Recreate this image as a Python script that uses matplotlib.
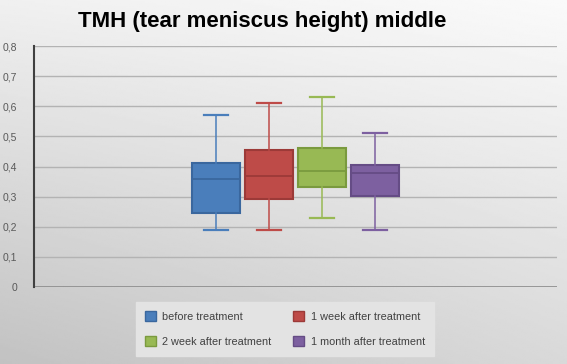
import numpy as np
import matplotlib.pyplot as plt
from matplotlib.patches import Patch

plt.rcParams['font.family'] = ['Liberation Sans', 'DejaVu Sans']

# data
groups = ['before treatment', '1 week after treatment',
          '2 week after treatment', '1 month after treatment']
whisk_lo = [0.19, 0.19, 0.23, 0.19]
q1 = [0.245, 0.293, 0.331, 0.302]
median = [0.36, 0.37, 0.384, 0.378]
q3 = [0.41, 0.454, 0.461, 0.404]
whisk_hi = [0.57, 0.61, 0.63, 0.51]

colors = ['#4A7EBB', '#BE4B48', '#98B954', '#7D60A0']
edges = ['#3A679E', '#9C3A38', '#7A9A3E', '#654C85']
yticks = np.arange(0, 0.81, 0.1)
ytick_labels = ['0'] + ['0,%d' % i for i in range(1, 9)]

W, H = 567, 364
fig = plt.figure(figsize=(W / 100, H / 100), dpi=100)

# background gradient (light at top right, darker at bottom left)
bg = fig.add_axes([0, 0, 1, 1], zorder=-10)
yy, xx = np.mgrid[0:1:200j, 0:1:300j]
shade = 0.98 - 0.13 * yy - 0.05 * (1 - xx) * yy - 0.04 * (1 - xx)
bg.imshow(shade, cmap='gray', vmin=0, vmax=1, aspect='auto',
          extent=[0, 1, 0, 1], origin='upper')
bg.axis('off')

ax = fig.add_axes([34 / W, 1 - 287 / H, 523 / W, 241 / H])
ax.patch.set_alpha(0)

stats = []
for i in range(len(groups)):
    stats.append({'whislo': whisk_lo[i], 'q1': q1[i], 'med': median[i],
                  'q3': q3[i], 'whishi': whisk_hi[i], 'fliers': []})

pos = [-1.5, -0.5, 0.5, 1.5]
bp = ax.bxp(stats, positions=pos, widths=0.9, patch_artist=True,
            showfliers=False, manage_ticks=False)
for i in range(len(groups)):
    bp['boxes'][i].set_facecolor(colors[i])
    bp['boxes'][i].set_edgecolor(edges[i])
    bp['boxes'][i].set_linewidth(1.5)
    bp['medians'][i].set_color(edges[i])
    bp['medians'][i].set_linewidth(1.3)
    for j in (2 * i, 2 * i + 1):
        bp['whiskers'][j].set_color(colors[i])
        bp['whiskers'][j].set_linewidth(1.1)
        bp['caps'][j].set_color(colors[i])
        bp['caps'][j].set_linewidth(1.6)

ax.set_xlim(-4.93, 4.93)
ax.set_ylim(0, 0.8)
ax.set_yticks(yticks)
ax.set_yticklabels(ytick_labels, fontsize=7.5, color='#595959')
ax.set_xticks([])
ax.tick_params(axis='y', length=0, pad=12)
ax.yaxis.grid(True, color='#b3b3b3', linewidth=1.0)
ax.set_axisbelow(True)
for s in ['top', 'right', 'bottom']:
    ax.spines[s].set_visible(False)
ax.spines['left'].set_color('#404040')
ax.spines['left'].set_linewidth(1.5)
ax.axhline(0, color='#8c8c8c', linewidth=1.2, zorder=1)

fig.text(262.5 / W, 1 - 22 / H, 'TMH (tear meniscus height) middle',
         ha='center', va='center', fontsize=16, fontweight='bold')

# legend filled row by row like the original
order = [0, 2, 1, 3]
handles = [Patch(facecolor=colors[i], edgecolor=edges[i]) for i in order]
labels = [groups[i] for i in order]
leg = fig.legend(handles, labels, ncol=2, loc='center',
                 bbox_to_anchor=(285 / W, 1 - 329 / H), fontsize=7.8,
                 frameon=True, fancybox=False, handlelength=1.0,
                 handleheight=1.0, columnspacing=2.0, handletextpad=0.6,
                 labelspacing=1.35, borderpad=0.8, labelcolor='#404040')
leg.get_frame().set_facecolor('#e3e3e3')
leg.get_frame().set_edgecolor('#e3e3e3')
leg.get_frame().set_alpha(1)

fig.savefig('out.png', dpi=100)
